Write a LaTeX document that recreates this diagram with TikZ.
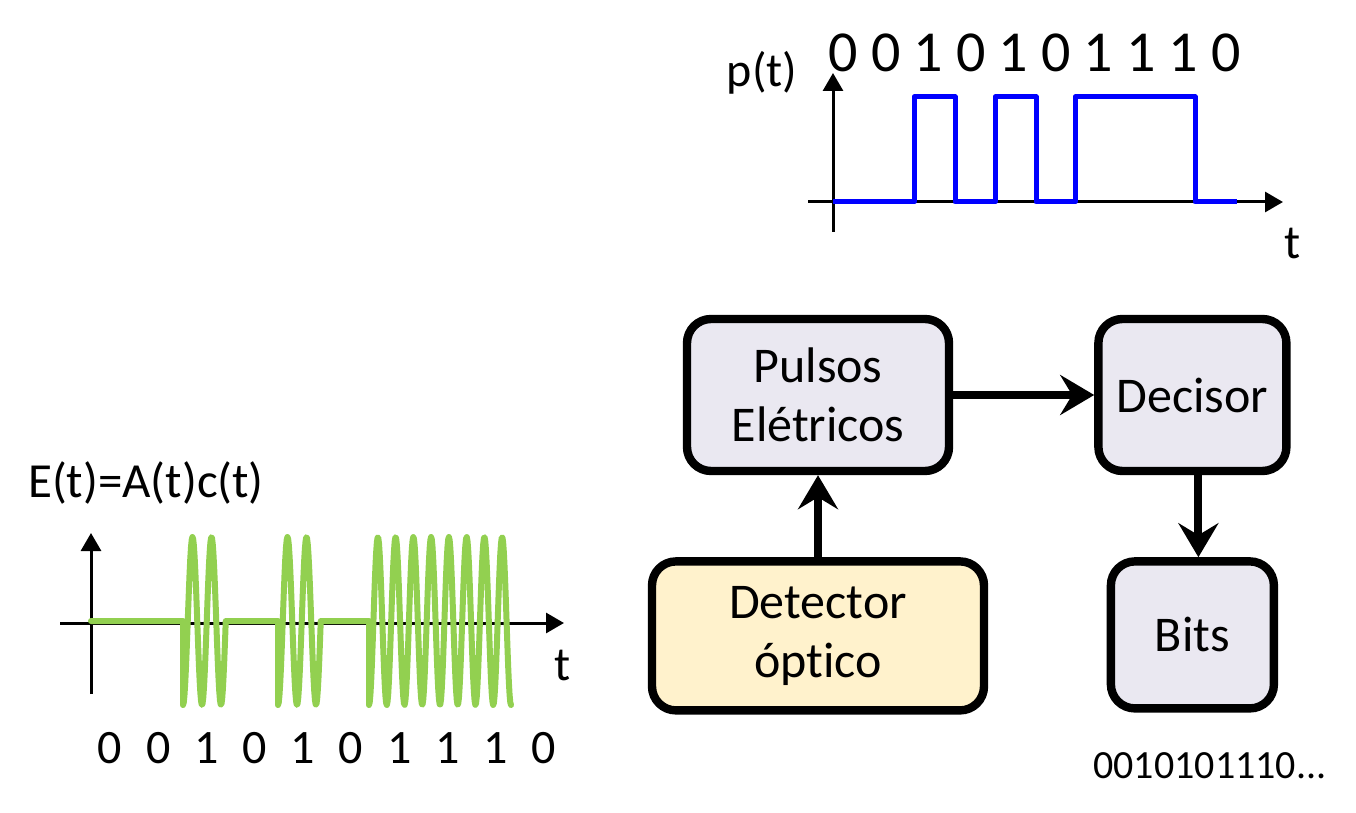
\documentclass[tikz,border=0pt]{standalone}
\usepackage{fontspec}
\setmainfont{Carlito}[Ligatures=NoCommon]
\newfontfamily\bitsfont{Carlito}[Ligatures=NoCommon,WordSpace=2.2]
\usetikzlibrary{arrows.meta, positioning}
\definecolor{cinzacaixa}{RGB}{234,232,241}
\definecolor{amarelocaixa}{RGB}{255,242,204}
\definecolor{verdeonda}{HTML}{92D050}

\begin{document}
\begin{tikzpicture}[x=0.5pt, y=-0.5pt]
        \tikzset{
          node distance=41pt and 70.5pt,
          caixa/.style={
            draw,align=center,line width=4.2pt,rounded corners=12pt,
            font=\fontsize{25}{29.5}\selectfont,text=black,inner sep=0pt,
          },
          caixa cinza/.style={caixa,fill=cinzacaixa},
          caixa amarela/.style={caixa,fill=amarelocaixa},
          rotulo/.style={font=\fontsize{24}{29}\selectfont,inner sep=0pt,anchor=base},
          seta/.style={
            line width=4pt,-{Stealth[length=17pt,width=20pt,inset=6pt]},
          },
          eixo/.style={line width=1.5pt,-{Triangle[length=9pt,width=10pt]}},
          pulso/.style={line width=2.5pt,blue,line join=round},
          onda/.style={line width=3pt,verdeonda,line cap=round,line join=round},
          }
        \useasboundingbox (0,0) rectangle (1356,813);

        % blocos
        \node[caixa cinza, minimum width=131pt, minimum height=76pt] (a) at (818,395) {Pulsos\\Elétricos};
        \node[caixa cinza, minimum width=94pt, minimum height=76pt, right=of a] (b) {Decisor};
        \node[caixa cinza, minimum width=81.5pt, minimum height=73.5pt, below=of b] (c) {Bits};
        \node[caixa amarela, minimum width=166pt, minimum height=74.5pt, below=of a] (d) {Detector\\óptico};
        \node[font=\fontsize{20}{24}\selectfont, inner sep=0pt, anchor=base west] (s) at (1093,778) {0010101110...};

        \draw[seta] (d) -- (a);
        \draw[seta] (a) -- (b);
        \draw[seta] ([xshift=3pt]b.south) -- ([xshift=3pt]b.south |- c.north);

        % p(t)
        \node[rotulo] (p) at (762,87) {p(t)};
        \node[rotulo, font=\fontsize{29}{34}\selectfont] (q) at (1034.5,72) {0 0 1 0 1 0 1 1 1 0};
        \node[rotulo] (t1) at (1293,258) {t};
        \draw[eixo] (833,232) -- (833,73);
        \draw[eixo] (808,202) -- (1283,202);
        \draw[pulso] (833,202) -- (914,202) -- (914,97) -- (955,97) -- (955,202) -- (995,202)
          -- (995,97) -- (1036,97) -- (1036,202) -- (1075,202) -- (1075,97) -- (1195,97)
          -- (1195,202) -- (1237,202);

        % E(t)
        \node[rotulo, font=\fontsize{24.5}{29}\selectfont] (e) at (146,497) {E(t)=A(t)c(t)};
        \node[rotulo] (t2) at (563,680) {t};
        \node[rotulo, font={\bitsfont\fontsize{24}{29}\selectfont}] (r) at (327,763) {0 0 1 0 1 0 1 1 1 0};
        \draw[eixo] (91,694) -- (91,533);
        \draw[eixo] (60,623) -- (564,623);
        \draw[onda] (91,621) -- (183,621)
          -- plot[domain=183:225.75, samples=60] (\x, {621+84*cos((\x-183)/19*360)})
          -- (278,621)
          -- plot[domain=278:320.75, samples=60] (\x, {621+84*cos((\x-278)/19*360)})
          -- (369,621)
          -- plot[domain=369:511, samples=200] (\x, {621+84*cos((\x-369)/17.75*360)});
      \end{tikzpicture}
\end{document}
